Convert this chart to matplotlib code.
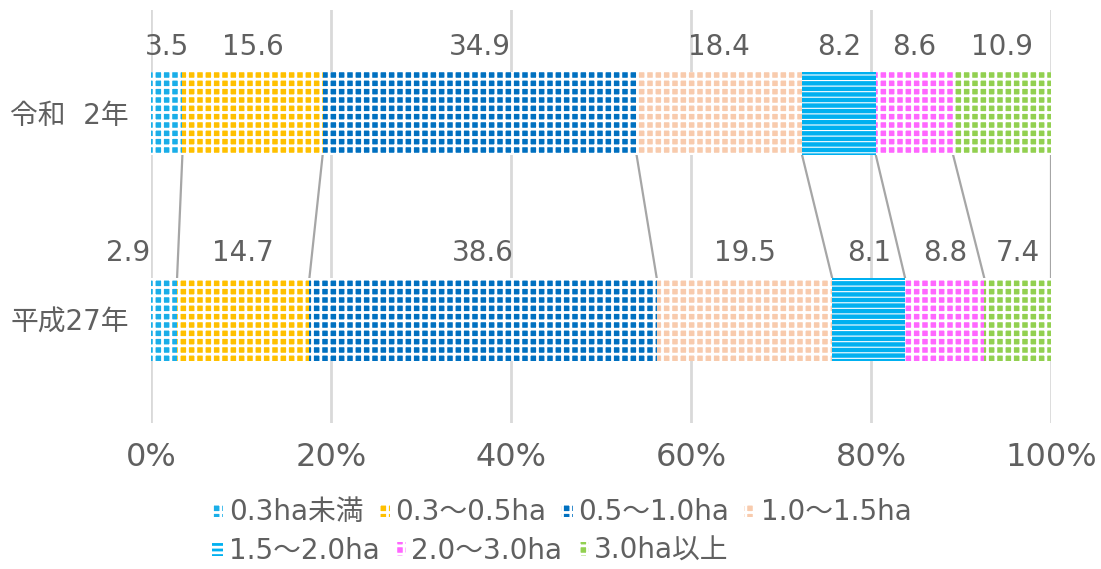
import matplotlib.pyplot as plt
from matplotlib.patches import Patch

plt.rcParams['font.family'] = ['DejaVu Sans', 'Noto Sans CJK JP']
plt.rcParams['hatch.linewidth'] = 2.0

# 経営耕地面積規模別の構成比（%）
years = ['令和  2年', '平成27年']
classes = ['0.3ha未満', '0.3〜0.5ha', '0.5〜1.0ha', '1.0〜1.5ha',
           '1.5〜2.0ha', '2.0〜3.0ha', '3.0ha以上']
r2 = [3.5, 15.6, 34.9, 18.4, 8.2, 8.6, 10.9]
h27 = [2.9, 14.7, 38.6, 19.5, 8.1, 8.8, 7.4]
colors = ['#1AAEE8', '#FFC000', '#0070C0', '#F8CBAD', '#00B0F0', '#FF66FF', '#92D050']
hatches = ['++', '++', '++', '++', '---', '++', '++']
hatch_lw = [2.0, 2.0, 2.0, 2.0, 0.8, 2.0, 2.0]

txt = '#606060'
fig = plt.figure(figsize=(11.01, 5.69), dpi=100)
ax = fig.add_axes([0.1371, 0.2566, 0.8175, 0.7258])


def set_hlw(patch, lw):
    if hasattr(patch, 'set_hatch_linewidth'):
        patch.set_hatch_linewidth(lw)


ypos = [1, 0]
bh = 0.4
data = [r2, h27]
cum = []
for y, vals in zip(ypos, data):
    tot = sum(vals)
    pct = [v / tot * 100 for v in vals]
    left = 0
    edges = []
    for i, (p, v) in enumerate(zip(pct, vals)):
        bars = ax.barh(y, p, left=left, height=bh, color=colors[i], hatch=hatches[i],
                       edgecolor='white', linewidth=0, zorder=3)
        for b in bars:
            set_hlw(b, hatch_lw[i])
        dx = -26 if (y == 0 and i == 0) else 0
        ax.annotate(f'{v:.1f}', (left + p / 2, y + bh / 2), xytext=(dx, 8),
                    textcoords='offset points', ha='center', va='bottom',
                    fontsize=20, color=txt)
        left += p
        edges.append(left)
    cum.append(edges)

# 系列線
for a, b in zip(cum[0], cum[1]):
    ax.plot([a, b], [1 - bh / 2, bh / 2], color='#A6A6A6', lw=1.6, zorder=2)

ax.set_xlim(0, 100)
ax.set_ylim(-0.5, 1.5)
ax.set_xticks(range(0, 101, 20))
ax.set_xticklabels([f'{t}%' for t in range(0, 101, 20)])
ax.set_yticks(ypos)
ax.set_yticklabels(years)
ax.tick_params(axis='x', length=0, pad=14, labelsize=23, labelcolor=txt)
ax.tick_params(axis='y', length=0, pad=16, labelsize=20, labelcolor=txt)
ax.grid(axis='x', color='#D9D9D9', lw=2, zorder=0)
for s in ax.spines.values():
    s.set_visible(False)

handles = []
for c, h, lw in zip(colors, hatches, hatch_lw):
    hp = Patch(facecolor=c, hatch=h, edgecolor='white', linewidth=0)
    set_hlw(hp, lw)
    handles.append(hp)
leg_kw = dict(frameon=False, fontsize=20, handlelength=0.4, handleheight=0.4,
              handletextpad=0.2, columnspacing=0.55, labelcolor=txt, borderaxespad=0,
              borderpad=0)
fig.legend(handles[:4], classes[:4], ncol=4, loc='center left',
           bbox_to_anchor=(212 / 1101, 1 - 512 / 569), **leg_kw)
fig.legend(handles[4:], classes[4:], ncol=3, loc='center left',
           bbox_to_anchor=(212 / 1101, 1 - 551 / 569), **leg_kw)

fig.savefig('out.png', dpi=100)
